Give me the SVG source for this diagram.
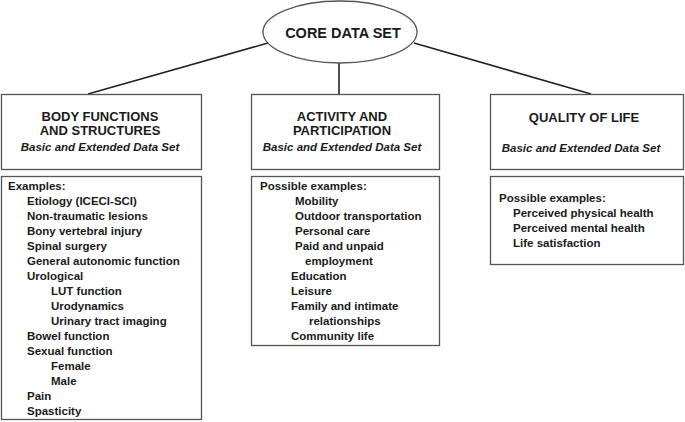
<svg xmlns="http://www.w3.org/2000/svg" width="685" height="422" viewBox="0 0 685 422">
<style>
.box{fill:#fff;stroke:#555;stroke-width:1.3}
.conn{stroke:#222;stroke-width:1.6;fill:none}
text{font-family:"Liberation Sans",Arial,sans-serif;font-weight:bold;fill:#1a1a1a}
.h{font-size:13px;text-anchor:middle}
.i{font-size:11.5px;font-style:italic;text-anchor:middle}
.t{font-size:11.5px}
.core{font-size:14.5px;text-anchor:middle}
</style>
<rect width="685" height="422" fill="#fff"/>
<g id="connectors">
<line class="conn" x1="268" y1="43" x2="88" y2="94"/>
<line class="conn" x1="339" y1="63" x2="339" y2="94"/>
<line class="conn" x1="414" y1="43" x2="591" y2="94"/>
</g>
<g id="core">
<ellipse class="box" cx="340" cy="32" rx="77" ry="31"/>
<text class="core" x="343" y="38">CORE DATA SET</text>
</g>
<g id="body">
<rect class="box" x="1.5" y="94.5" width="200" height="75"/>
<text class="h" x="100" y="121">BODY FUNCTIONS</text>
<text class="h" x="100" y="135">AND STRUCTURES</text>
<text class="i" x="100" y="151">Basic and Extended Data Set</text>
</g>
<g id="body-examples">
<rect class="box" x="1.5" y="176.5" width="200" height="243"/>
<text class="t" x="8" y="190">Examples:</text>
<text class="t" x="27" y="205">Etiology (ICECI-SCI)</text>
<text class="t" x="27" y="220">Non-traumatic lesions</text>
<text class="t" x="27" y="235">Bony vertebral injury</text>
<text class="t" x="27" y="250">Spinal surgery</text>
<text class="t" x="27" y="265">General autonomic function</text>
<text class="t" x="27" y="280">Urological</text>
<text class="t" x="51" y="295">LUT function</text>
<text class="t" x="51" y="310">Urodynamics</text>
<text class="t" x="51" y="325">Urinary tract imaging</text>
<text class="t" x="27" y="340">Bowel function</text>
<text class="t" x="27" y="355">Sexual function</text>
<text class="t" x="51" y="370">Female</text>
<text class="t" x="51" y="385">Male</text>
<text class="t" x="27" y="400">Pain</text>
<text class="t" x="27" y="415">Spasticity</text>
</g>
<g id="activity">
<rect class="box" x="251.5" y="94.5" width="188" height="75"/>
<text class="h" x="342" y="121">ACTIVITY AND</text>
<text class="h" x="342" y="135">PARTICIPATION</text>
<text class="i" x="342" y="151">Basic and Extended Data Set</text>
</g>
<g id="activity-examples">
<rect class="box" x="251.5" y="176.5" width="188" height="169"/>
<text class="t" x="260" y="190">Possible examples:</text>
<text class="t" x="295" y="205">Mobility</text>
<text class="t" x="295" y="220">Outdoor transportation</text>
<text class="t" x="295" y="235">Personal care</text>
<text class="t" x="295" y="250">Paid and unpaid</text>
<text class="t" x="305" y="265">employment</text>
<text class="t" x="291" y="280">Education</text>
<text class="t" x="291" y="295">Leisure</text>
<text class="t" x="291" y="310">Family and intimate</text>
<text class="t" x="309" y="325">relationships</text>
<text class="t" x="291" y="340">Community life</text>
</g>
<g id="quality">
<rect class="box" x="490.5" y="94.5" width="193" height="75"/>
<text class="h" x="584" y="122">QUALITY OF LIFE</text>
<text class="i" x="581" y="152">Basic and Extended Data Set</text>
</g>
<g id="quality-examples">
<rect class="box" x="490.5" y="176.5" width="193" height="88"/>
<text class="t" x="499" y="202">Possible examples:</text>
<text class="t" x="513" y="217">Perceived physical health</text>
<text class="t" x="513" y="232">Perceived mental health</text>
<text class="t" x="513" y="247">Life satisfaction</text>
</g>
</svg>
